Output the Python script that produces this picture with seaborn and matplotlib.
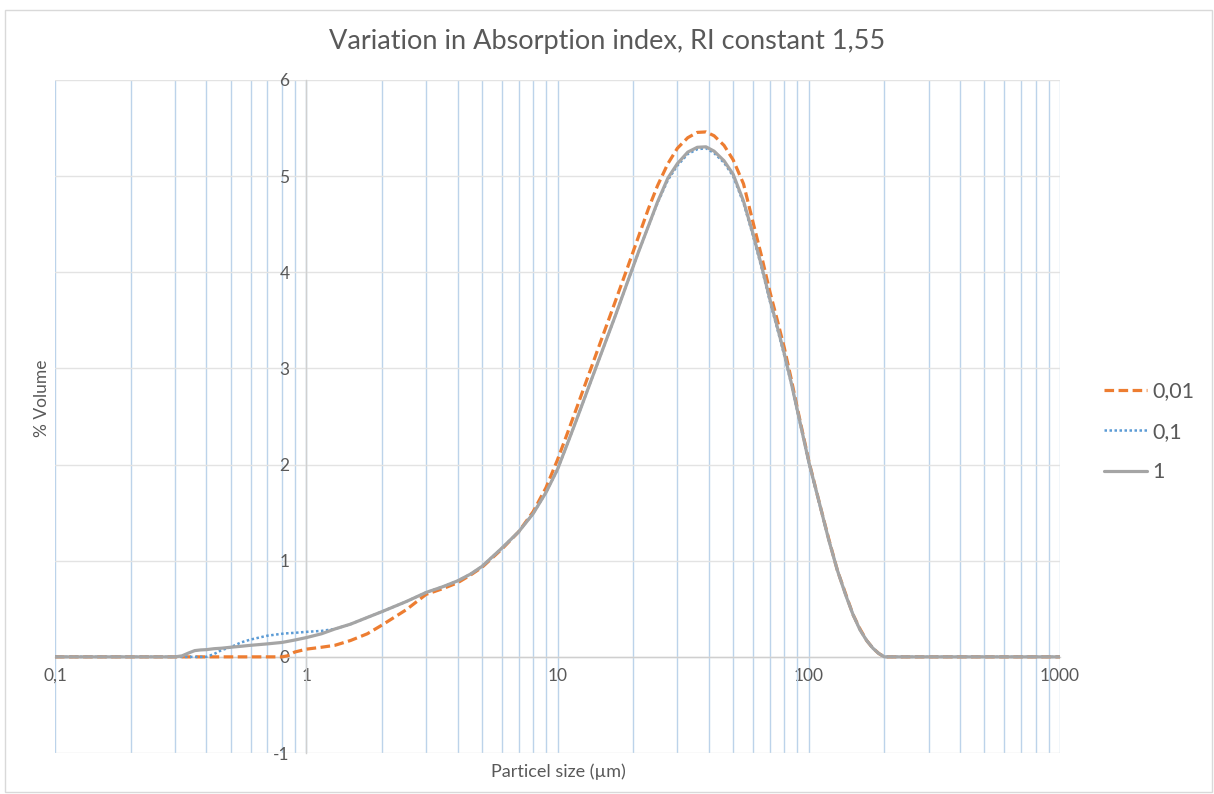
import matplotlib
matplotlib.use("Agg")
import matplotlib.pyplot as plt
import seaborn as sns
import numpy as np
import pandas as pd
from matplotlib.lines import Line2D
from matplotlib.patches import Rectangle
from matplotlib.ticker import FixedLocator, LogLocator, NullFormatter

# ---------------- data ----------------
size_um = [0.1, 0.2, 0.3, 0.32, 0.34, 0.36, 0.38, 0.4, 0.43, 0.46, 0.5, 0.55, 0.6,
           0.7, 0.8, 0.84, 0.9, 1.0, 1.15, 1.3, 1.5, 1.75, 2.0, 2.5, 3.0, 3.5, 4.0,
           4.5, 5.0, 6.0, 7.0, 8.0, 9.0, 10, 11, 12, 13.5, 15, 17, 19, 21, 23, 25,
           27.5, 30, 33, 36, 39, 42, 46, 50, 55, 60, 65, 70, 75, 80, 85, 90, 100,
           110, 120, 130, 140, 150, 160, 170, 180, 190, 200, 250, 400, 1000]

vol_001 = [0, 0, 0, 0, 0, 0, 0, 0, 0, 0, 0, 0, 0,
           0, 0, 0.01, 0.05, 0.08, 0.10, 0.12, 0.17, 0.24, 0.33, 0.49, 0.65, 0.71, 0.77,
           0.85, 0.93, 1.12, 1.30, 1.51, 1.76, 2.05, 2.34, 2.61, 2.98, 3.31, 3.70, 4.05, 4.37, 4.66, 4.90,
           5.13, 5.29, 5.40, 5.455, 5.46, 5.42, 5.32, 5.17, 4.92, 4.52, 4.16, 3.80, 3.50, 3.21, 2.90, 2.59, 2.04,
           1.61, 1.23, 0.90, 0.66, 0.44, 0.29, 0.17, 0.09, 0.035, 0, 0, 0, 0]

vol_01 = [0, 0, 0, 0, 0, 0, 0, 0, 0.03, 0.07, 0.10, 0.15, 0.18,
          0.22, 0.24, 0.245, 0.25, 0.26, 0.27, 0.29, 0.34, 0.41, 0.47, 0.575, 0.67, 0.73, 0.79,
          0.86, 0.94, 1.13, 1.30, 1.49, 1.71, 1.95, 2.23, 2.49, 2.85, 3.17, 3.55, 3.90, 4.21, 4.48, 4.72,
          4.96, 5.11, 5.23, 5.28, 5.29, 5.24, 5.14, 5.00, 4.72, 4.38, 4.04, 3.70, 3.41, 3.13, 2.85, 2.56, 2.02,
          1.60, 1.22, 0.90, 0.65, 0.44, 0.28, 0.17, 0.09, 0.035, 0, 0, 0, 0]

vol_1 = [0, 0, 0, 0.01, 0.04, 0.065, 0.072, 0.075, 0.085, 0.09, 0.10, 0.11, 0.12,
         0.135, 0.15, 0.16, 0.175, 0.20, 0.24, 0.29, 0.34, 0.41, 0.47, 0.575, 0.67, 0.73, 0.79,
         0.86, 0.94, 1.13, 1.30, 1.49, 1.71, 1.95, 2.23, 2.49, 2.85, 3.17, 3.55, 3.90, 4.21, 4.48, 4.73,
         4.98, 5.13, 5.25, 5.30, 5.305, 5.26, 5.16, 5.02, 4.74, 4.40, 4.06, 3.72, 3.43, 3.15, 2.86, 2.57, 2.03,
         1.61, 1.22, 0.90, 0.65, 0.44, 0.28, 0.17, 0.09, 0.035, 0, 0, 0, 0]

series_names = ["0,01", "0,1", "1"]
y_ticks = [-1, 0, 1, 2, 3, 4, 5, 6]
x_ticks = [0.1, 1, 10, 100, 1000]
x_tick_labels = ["0,1", "1", "10", "100", "1000"]

# ---------------- style ----------------
sns.set_theme(style="white")
plt.rcParams["font.family"] = ["Lato", "DejaVu Sans"]

text_col = "#595959"
colors = {"0,01": "#ED7D31", "0,1": "#5B9BD5", "1": "#A5A5A5"}

fig = plt.figure(figsize=(12.14, 7.94), dpi=100)
fig.patch.set_facecolor("white")
ax = fig.add_axes([55 / 1214, 1 - 753 / 794, (1060 - 55) / 1214, (753 - 80) / 794])

df = pd.DataFrame({"size": size_um * 3,
                   "vol": vol_001 + vol_01 + vol_1,
                   "series": [s for s in series_names for _ in size_um]})

styles = {
    "0,01": dict(lw=2.3, dashes=(3.0, 1.4)),
    "0,1": dict(lw=1.8, dashes=(1.0, 1.0)),
    "1": dict(lw=2.3, dashes=None),
}
for name in series_names:
    sub = df[df["series"] == name]
    st = styles[name]
    sns.lineplot(data=sub, x="size", y="vol", ax=ax, color=colors[name],
                 linewidth=st["lw"], estimator=None, sort=False, legend=False, zorder=3)
    line = ax.lines[-1]
    if st["dashes"] is not None:
        line.set_dashes(st["dashes"])
    line.set_solid_capstyle("butt")
    line.set_solid_joinstyle("round")

ax.set_xscale("log")
ax.set_xlim(0.1, 1000)
ax.set_ylim(-1, 6)

# grids
ax.xaxis.set_major_locator(FixedLocator(x_ticks))
ax.xaxis.set_minor_locator(LogLocator(base=10, subs=np.arange(2, 10)))
ax.xaxis.set_minor_formatter(NullFormatter())
ax.set_xticks(x_ticks)
ax.set_xticklabels(x_tick_labels)
ax.set_yticks(y_ticks)
ax.set_yticklabels([str(v) for v in y_ticks])
ax.grid(True, which="both", axis="x", color="#BCD3EA", linewidth=1.0, zorder=0)
ax.grid(True, which="major", axis="y", color="#E3E3E3", linewidth=1.0, zorder=0)
for gl in ax.xaxis.get_gridlines() + ax.xaxis.get_minorticklines():
    gl.set_snap(True)

# axes crossing
for s in ["top", "right"]:
    ax.spines[s].set_visible(False)
ax.spines["left"].set_position(("data", 1))
ax.spines["bottom"].set_position(("data", 0))
ax.spines["left"].set_color("#D0D0D0")
ax.spines["bottom"].set_color("#CFCFCF")
ax.spines["left"].set_linewidth(1.0)
ax.spines["bottom"].set_linewidth(1.0)
ax.spines["left"].set_zorder(1)
ax.spines["bottom"].set_zorder(1)

ax.tick_params(axis="both", which="both", length=0, colors=text_col, labelsize=12.5)
ax.tick_params(axis="y", pad=12)
ax.tick_params(axis="x", pad=8)

ax.set_xlabel("")
ax.set_ylabel("")
fig.text(558 / 1214, 1 - 772 / 794, "Particel size (µm)", ha="center", va="center",
         fontsize=13, color=text_col)
fig.text(42 / 1214, 1 - 398 / 794, "% Volume", ha="center", va="center",
         rotation=90, fontsize=12.5, color=text_col)
fig.text(607 / 1214, 1 - 42 / 794, "Variation in Absorption index, RI constant 1,55",
         ha="center", va="center", fontsize=19.5, color=text_col)

# legend
handles = [Line2D([0], [0], color=colors[n], lw=styles[n]["lw"],
                  dashes=styles[n]["dashes"] if styles[n]["dashes"] else (None, None))
           for n in series_names]
handles[2].set_linestyle("-")
leg = ax.legend(handles, series_names, loc="center left",
                bbox_to_anchor=((1104 - 55) / 1005, (753 - 432) / 673), frameon=False,
                fontsize=15.5, handlelength=2.0, handletextpad=0.25, labelspacing=0.95,
                borderpad=0, borderaxespad=0, labelcolor=text_col)

# chart border
fig.patches.append(Rectangle((5 / 1214, 0.002), 1 - 5 / 1214 - 0.002, 1 - 10 / 794 - 0.002,
                             transform=fig.transFigure, fill=False,
                             edgecolor="#D9D9D9", linewidth=1.0))

fig.savefig("out.png", dpi=100, facecolor="white")
